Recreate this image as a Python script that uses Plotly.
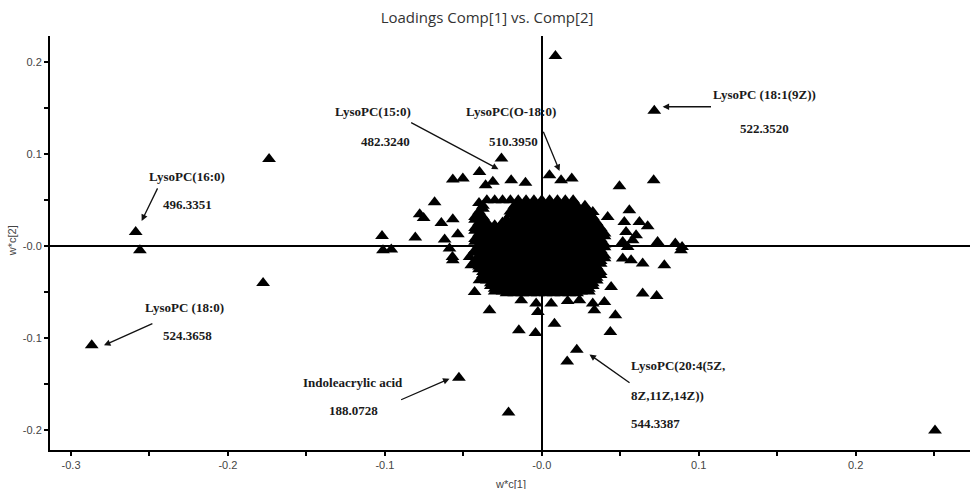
import plotly.graph_objects as go

# ---- scattered loadings ----
outer_x = [-0.2588, -0.2561, -0.1738, -0.1776, -0.2868, -0.0528, -0.1018, -0.1012, -0.0959, -0.0806,
           -0.0683, -0.0778, -0.0753, -0.0567, -0.0503, -0.0640, -0.0567, -0.0619, -0.0588, -0.0569,
           -0.0535, -0.0567, -0.0257, -0.0397, -0.0312, -0.0195, -0.0104, -0.0358, -0.0460, -0.0449,
           -0.0397, -0.0428, -0.0333, -0.0146, -0.0040, -0.0131, -0.0025, 0.0049, 0.0123, 0.0191,
           0.0495, 0.0713, 0.0325, 0.0420, 0.0558, 0.0526, 0.0622, 0.0675, 0.0537, 0.0601,
           0.0516, 0.0547, 0.0516, 0.0738, 0.0851, 0.0894, 0.0887, 0.0643, 0.0781, 0.0643,
           0.0732, 0.0442, 0.0469, 0.0437, 0.0335, 0.0399, 0.0060, 0.0165, 0.0081, 0.0087,
           0.0717, 0.0223, 0.0162, -0.0212, 0.2506, 0.0240, 0.0325, -0.0036, 0.0579, 0.0569]
outer_y = [0.0157, -0.0042, 0.0948, -0.0398, -0.1076, -0.1427, 0.0113, -0.0042, -0.0035, 0.0096,
           0.0480, 0.0349, 0.0309, 0.0727, 0.0738, 0.0255, 0.0295, 0.0074, -0.0024, -0.0115,
           0.0132, -0.0151, 0.0955, 0.0809, 0.0701, 0.0719, 0.0690, 0.0665, -0.0115, -0.0206,
           -0.0369, -0.0496, -0.0695, -0.0913, -0.0942, -0.0586, -0.0714, 0.0774, 0.0719, 0.0738,
           0.0654, 0.0719, 0.0374, 0.0320, 0.0393, 0.0265, 0.0265, 0.0219, 0.0157, 0.0121,
           0.0048, -0.0007, -0.0133, 0.0048, 0.0030, -0.0007, -0.0042, -0.0187, -0.0206, -0.0513,
           -0.0540, -0.0442, -0.0750, -0.0931, -0.0695, -0.0605, -0.0622, -0.0594, -0.0840, 0.2068,
           0.1473, -0.1123, -0.1250, -0.1805, -0.2001, -0.0586, -0.0622, -0.0622, 0.0066, -0.0151]

# ---- dense central cluster: x positions of each row ----
XA = [-0.035, -0.030, -0.025, -0.020, -0.015, -0.010, -0.005, 0.000, 0.005, 0.010, 0.015, 0.020]
XB = [-0.040, -0.015, -0.010, -0.005, 0.000, 0.005, 0.010, 0.015, 0.020]
XC = [-0.0375, -0.0175, -0.0125, -0.0075, -0.0025, 0.0025, 0.0075, 0.0125, 0.0175, 0.0225, 0.0275]
XD = [-0.040, -0.020, -0.015, -0.010, -0.005, 0.000, 0.005, 0.010, 0.015, 0.020, 0.025, 0.030]
XE = [-0.0425, -0.0375, -0.0175, -0.0125, -0.0075, -0.0025, 0.0025, 0.0075, 0.0125, 0.0175, 0.0225,
      0.0275, 0.0325]
XF = [-0.0425, -0.0375, -0.0225, -0.0175, -0.0125, -0.0075, -0.0025, 0.0025, 0.0075, 0.0125, 0.0175,
      0.0225, 0.0275, 0.0325]
XG = [-0.040, -0.035, -0.025, -0.020, -0.015, -0.010, -0.005, 0.000, 0.005, 0.010, 0.015, 0.020, 0.025,
      0.030, 0.035]
XH = [-0.040, -0.035, -0.030, -0.025, -0.020, -0.015, -0.010, -0.005, 0.000, 0.005, 0.010, 0.015, 0.020,
      0.025, 0.030, 0.035]
XI = [-0.0425, -0.0375, -0.0325, -0.0275, -0.0225, -0.0175, -0.0125, -0.0075, -0.0025, 0.0025, 0.0075,
      0.0125, 0.0175, 0.0225, 0.0275, 0.0325, 0.0375]
XJ = [-0.040, -0.035, -0.030, -0.025, -0.020, -0.015, -0.010, -0.005, 0.000, 0.005, 0.010, 0.015, 0.020,
      0.025, 0.030, 0.035, 0.040]
XL = [-0.0375, -0.0325, -0.0275, -0.0225, -0.0175, -0.0125, -0.0075, -0.0025, 0.0025, 0.0075, 0.0125,
      0.0175, 0.0225, 0.0275, 0.0325, 0.0375]
XM = [-0.035, -0.030, -0.025, -0.020, -0.015, -0.010, -0.005, 0.000, 0.005, 0.010, 0.015, 0.020, 0.025,
      0.030, 0.035]
XN = [-0.0325, -0.0275, -0.0225, -0.0175, -0.0125, -0.0075, -0.0025, 0.0025, 0.0075, 0.0125, 0.0175,
      0.0225, 0.0275, 0.0325]
XO = [-0.030, -0.025, -0.020, -0.015, -0.010, -0.005, 0.000, 0.005, 0.010, 0.015, 0.020, 0.025, 0.030]
XP = [-0.0225, -0.0175, -0.0125, -0.0075, -0.0025, 0.0025, 0.0075, 0.0125, 0.0175, 0.0225]

core_row_y = [0.050, 0.047, 0.044, 0.041, 0.038, 0.035, 0.032, 0.029, 0.026, 0.023,
              0.020, 0.017, 0.014, 0.011, 0.008, 0.005, 0.002, -0.001, -0.004, -0.007,
              -0.010, -0.013, -0.016, -0.019, -0.022, -0.025, -0.028, -0.031, -0.034, -0.037,
              -0.040, -0.043, -0.046, -0.049, -0.051]
core_row_x = [XA, XB, XC, XC, XD, XD, XE, XF, XG, XH,
              XI, XI, XJ, XJ, XI, XI, XJ, XJ, XI, XI,
              XJ, XJ, XI, XI, XH, XH, XL, XL, XM, XM,
              XN, XN, XO, XO, XP]

# ---- axis ticks ----
x_tickvals = [-0.30, -0.25, -0.20, -0.15, -0.10, -0.05, 0.00, 0.05, 0.10, 0.15, 0.20, 0.25]
x_ticktext = ["-0.3", "", "-0.2", "", "-0.1", "", "-0.0", "", "0.1", "", "0.2", ""]
y_tickvals = [-0.20, -0.15, -0.10, -0.05, 0.00, 0.05, 0.10, 0.15, 0.20]
y_ticktext = ["-0.2", "", "-0.1", "", "-0.0", "", "0.1", "", "0.2"]

# ---- labelled compounds ----
labels = [
    ("LysoPC(16:0)", -0.2262, 0.0755, "center"),
    ("496.3351", -0.2258, 0.0458, "center"),
    ("LysoPC (18:0)", -0.2278, -0.0659, "center"),
    ("524.3658", -0.2258, -0.0967, "center"),
    ("Indoleacrylic acid", -0.1201, -0.1475, "center"),
    ("188.0728", -0.1200, -0.1783, "center"),
    ("LysoPC(15:0)", -0.1078, 0.1462, "center"),
    ("482.3240", -0.0995, 0.1143, "center"),
    ("LysoPC(O-18:0)", -0.0195, 0.1462, "center"),
    ("510.3950", -0.0180, 0.1143, "center"),
    ("LysoPC (18:1(9Z))", 0.1080, 0.1655, "left"),
    ("522.3520", 0.1250, 0.1285, "left"),
    ("LysoPC(20:4(5Z,", 0.0556, -0.1294, "left"),
    ("8Z,11Z,14Z))", 0.0556, -0.1620, "left"),
    ("544.3387", 0.0556, -0.1924, "left"),
]
arrows = [  # tail x, tail y, head x, head y
    (-0.2444, 0.0646, -0.2550, 0.0276),
    (-0.2472, -0.0833, -0.2790, -0.1076),
    (-0.0906, -0.1674, -0.0588, -0.1438),
    (-0.0842, 0.1353, -0.0276, 0.0839),
    (0.0006, 0.1263, 0.0113, 0.0820),
    (0.1088, 0.1517, 0.0770, 0.1517),
    (0.0569, -0.1493, 0.0304, -0.1174),
]

core_x, core_y = [], []
for yv, xs in zip(core_row_y, core_row_x):
    for xv in xs:
        core_x.append(xv)
        core_y.append(yv)

all_x = core_x + outer_x
all_y = core_y + outer_y

fig = go.Figure()
fig.add_trace(go.Scatter(
    x=all_x, y=all_y, mode="markers",
    marker=dict(symbol="triangle-up", size=12, color="black", line=dict(width=0)),
    showlegend=False, hoverinfo="skip"))

annos = []
for txt, tx, ty, anc in labels:
    annos.append(dict(x=tx, y=ty, xref="x", yref="y", text=txt, showarrow=False,
                      xanchor=anc, yanchor="middle",
                      font=dict(family="Liberation Serif, Times New Roman, serif", size=13,
                                color="#1a1a1a", weight="bold")))
for tx, ty, hx, hy in arrows:
    annos.append(dict(x=hx, y=hy, xref="x", yref="y", ax=tx, ay=ty, axref="x", ayref="y",
                      text="", showarrow=True, arrowhead=2, arrowsize=1, arrowwidth=1.3,
                      arrowcolor="#111"))
annos.append(dict(x=0.501, y=-0.082, xref="paper", yref="paper", text="w*c[1]", showarrow=False,
                  xanchor="center", yanchor="middle",
                  font=dict(family="Arial, Liberation Sans, sans-serif", size=11, color="#444")))
annos.append(dict(x=-0.041, y=0.505, xref="paper", yref="paper", text="w*c[2]", showarrow=False,
                  textangle=-90, xanchor="center", yanchor="middle",
                  font=dict(family="Arial, Liberation Sans, sans-serif", size=11, color="#444")))

tickfont = dict(family="Arial, Liberation Sans, sans-serif", size=11, color="#444")
fig.update_layout(
    width=971, height=489,
    margin=dict(l=50, r=1, t=36, b=39),
    paper_bgcolor="white", plot_bgcolor="white",
    title=dict(text="Loadings Comp[1] vs. Comp[2]", x=0.5016, xref="container", xanchor="center",
               y=1 - 18 / 489, yref="container", yanchor="middle",
               font=dict(family="Open Sans, sans-serif", size=15, color="#333")),
    xaxis=dict(range=[-0.3134, 0.2729], tickmode="array", tickvals=x_tickvals, ticktext=x_ticktext,
               ticks="outside", ticklen=4, tickwidth=2, tickcolor="black", tickfont=tickfont,
               showline=True, linewidth=2, linecolor="black", showgrid=False,
               zeroline=True, zerolinewidth=2, zerolinecolor="black"),
    yaxis=dict(range=[-0.2213, 0.2286], tickmode="array", tickvals=y_tickvals, ticktext=y_ticktext,
               ticks="outside", ticklen=4, tickwidth=2, tickcolor="black", tickfont=tickfont,
               showline=True, linewidth=2, linecolor="black", showgrid=False,
               zeroline=True, zerolinewidth=2, zerolinecolor="black"),
    annotations=annos,
)
fig.write_html("out.html")
